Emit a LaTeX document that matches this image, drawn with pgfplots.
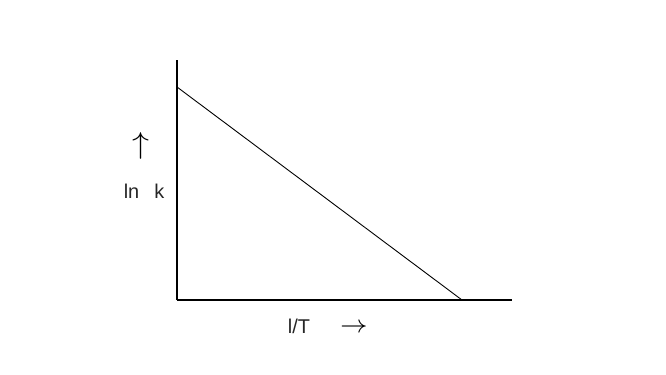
\documentclass[border=0pt]{standalone}
\usepackage{pgfplots}
\pgfplotsset{compat=1.18}
\usepackage{fontspec}
\setmainfont{Liberation Sans}
\begin{document}
\begin{tikzpicture}[x=1bp,y=1bp]
\path[use as bounding box] (0,0) rectangle (666,374);
\begin{axis}[
  at={(177bp,74bp)}, anchor=origin,
  scale only axis, width=335bp, height=240bp,
  xmin=0, xmax=335, ymin=0, ymax=240,
  axis x line=bottom, axis y line=left,
  axis line style={-, line width=1.1pt},
  xtick=\empty, ytick=\empty,
  clip=false,
]
\addplot[black, line width=0.9pt, no marks] coordinates {(0,213) (285,0)};
\end{axis}
\node[font=\fontsize{20}{22}\selectfont, text=black!85] at (144,183) {ln\hspace{15bp}k};
\node[inner sep=0pt] at (141,228) {\resizebox{17bp}{21bp}{$\uparrow$}};
\node[font=\fontsize{20}{22}\selectfont, text=black!85] at (299,48) {l/T};
\node[inner sep=0pt, rotate=-90] at (354,48) {\resizebox{14bp}{19bp}{$\uparrow$}};
\end{tikzpicture}
\end{document}
